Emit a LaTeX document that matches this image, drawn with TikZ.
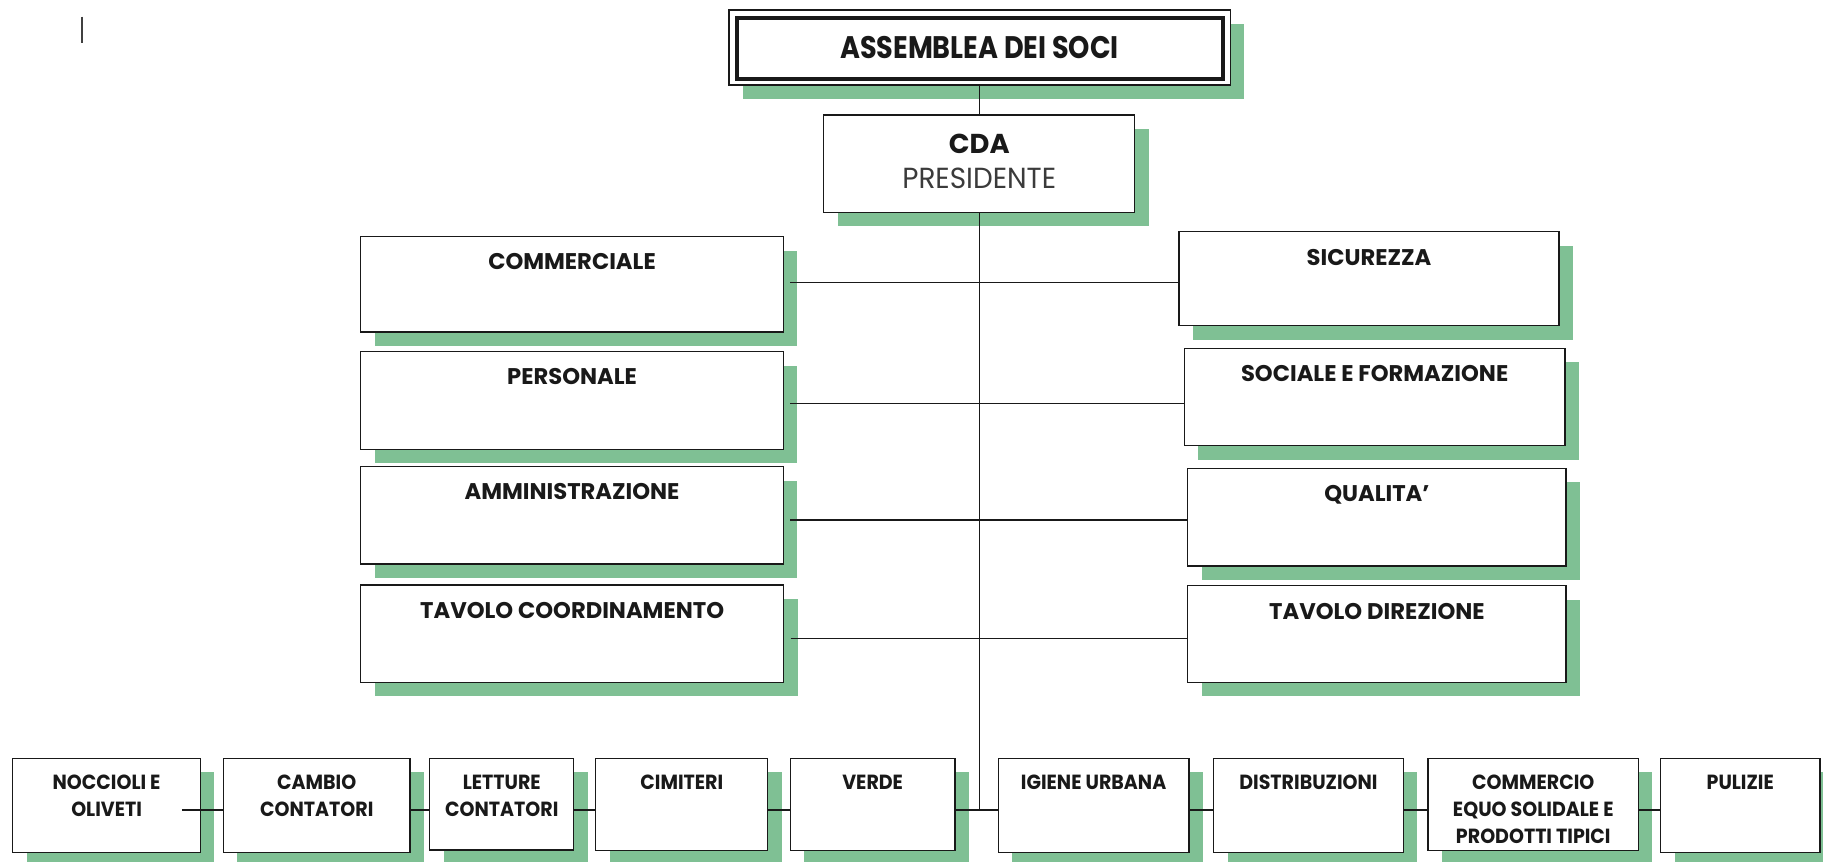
\documentclass[tikz,border=0pt]{standalone}
\usepackage{fontspec}
\setmainfont{Poppins}
\newfontfamily\popA[FakeStretch=0.87]{Poppins}
\newfontfamily\popP[FakeStretch=0.96]{Poppins}
\newfontfamily\popB[FakeStretch=0.93]{Poppins}
\usetikzlibrary{shadows,calc}
\definecolor{shgreen}{RGB}{127,192,148}
\definecolor{ink}{RGB}{25,25,25}
\newcommand\orgbox[5]{%
  \node[box, minimum width={(#4-#2)*1pt}, minimum height={(#5-#3)*1pt}] (#1) at (#2,#3) {};}
\begin{document}
\begin{tikzpicture}[x=1pt,y=-1pt,
  box/.style={draw=ink, line width=1.1pt, fill=white, inner sep=0pt, outer sep=0pt,
    anchor=north west,
    drop shadow={shadow xshift=12pt, shadow yshift=-12pt, fill=shgreen, opacity=1}},
  lbl/.style={inner sep=0pt, anchor=north, align=center, text=ink},
  midlbl/.style={lbl, font=\fontsize{19.5}{24}\selectfont\bfseries},
  botlbl/.style={lbl, font=\popB\fontsize{17.6}{23}\selectfont\bfseries},
  link/.style={draw=ink, line width=1pt}]

\useasboundingbox (0,0) rectangle (1568,741);

% top boxes
\node[box, line width=0.9pt, minimum width=431pt, minimum height=64.5pt,
  font=\popA\fontsize{26.8}{30}\selectfont\bfseries, text=ink] (assemblea) at (627,8.6) {ASSEMBLEA DEI SOCI};
\draw[ink, line width=3.5pt] ([shift={(6.5,7)}]assemblea.north west) rectangle ([shift={(-6,-5)}]assemblea.south east);

\orgbox{cda}{708.5}{98.9}{976}{182.6}
\node[lbl, font=\fontsize{23.5}{30}\selectfont] (cda-t) at ([yshift=-16.5pt]cda.north)
  {{\bfseries CDA}\\{\popP\fontsize{25}{30}\selectfont\color{ink!85!white}PRESIDENTE}};

% left column
\orgbox{comm}{310.2}{203.6}{673.8}{285.6}
\orgbox{pers}{310.2}{302.5}{673.8}{386.5}
\orgbox{amm}{310.2}{401.4}{673.8}{485.1}
\orgbox{tcoord}{310.2}{503.2}{674}{587}
% right column
\orgbox{sic}{1014}{199.3}{1341}{280.1}
\orgbox{soc}{1018.7}{299.6}{1346}{383.3}
\orgbox{qual}{1021.6}{402.8}{1347}{486.8}
\orgbox{tdir}{1021.6}{503.8}{1347}{586.9}

\node[midlbl] (comm-t) at ([yshift=-14.5pt]comm.north) {COMMERCIALE};
\node[midlbl] (pers-t) at ([yshift=-14.5pt]pers.north) {PERSONALE};
\node[midlbl] (amm-t) at ([yshift=-14.5pt]amm.north) {AMMINISTRAZIONE};
\node[midlbl] (tcoord-t) at ([yshift=-14.8pt]tcoord.north) {TAVOLO COORDINAMENTO};
\node[midlbl] (sic-t) at ([yshift=-14.8pt]sic.north) {SICUREZZA};
\node[midlbl] (soc-t) at ([yshift=-14.8pt]soc.north) {SOCIALE E FORMAZIONE};
\node[midlbl] (qual-t) at ([yshift=-14.8pt]qual.north) {QUALITA’};
\node[midlbl] (tdir-t) at ([yshift=-14.8pt]tdir.north) {TAVOLO DIREZIONE};

% bottom row
\orgbox{nocc}{11}{652.3}{172.4}{733.4}
\orgbox{cambio}{192.2}{652.3}{352.7}{733.4}
\orgbox{letture}{369.7}{652.3}{493.5}{731.1}
\orgbox{cimiteri}{512.5}{652.3}{660.4}{731.7}
\orgbox{verde}{679.9}{652.3}{821.3}{731.7}
\orgbox{igiene}{858.7}{652.3}{1022.6}{733.4}
\orgbox{distrib}{1043.8}{652.3}{1207}{733.4}
\orgbox{commercio}{1228.3}{652.3}{1409.3}{731.7}
\orgbox{pulizie}{1428.3}{652.3}{1565.3}{733.4}

\node[botlbl] (nocc-t) at ([yshift=-14.3pt]nocc.north) {NOCCIOLI E\\OLIVETI};
\node[botlbl] (cambio-t) at ([yshift=-14.3pt]cambio.north) {CAMBIO\\CONTATORI};
\node[botlbl] (letture-t) at ([yshift=-14.3pt]letture.north) {LETTURE\\CONTATORI};
\node[botlbl] (cimiteri-t) at ([yshift=-14.3pt]cimiteri.north) {CIMITERI};
\node[botlbl] (verde-t) at ([yshift=-14.3pt]verde.north) {VERDE};
\node[botlbl] (igiene-t) at ([yshift=-14.3pt]igiene.north) {IGIENE URBANA};
\node[botlbl] (distrib-t) at ([yshift=-14.3pt]distrib.north) {DISTRIBUZIONI};
\node[botlbl] (commercio-t) at ([yshift=-14.3pt]commercio.north) {COMMERCIO\\EQUO SOLIDALE E\\PRODOTTI TIPICI};
\node[botlbl] (pulizie-t) at ([yshift=-14.3pt]pulizie.north) {PULIZIE};

% connectors
\coordinate (jn) at (842.4,696.7);
\draw[link] (assemblea.south -| cda.north) -- (cda.north);
\draw[link] (cda.south) -- (cda.south |- jn);

\draw[link] ($(comm.east)+(6,-1.7)$) -- ($(comm.east -| sic.west)+(0,-1.7)$);
\draw[link] ($(pers.east)+(6,2.4)$) -- ($(pers.east -| soc.west)+(0,2.4)$);
\draw[link] ($(amm.east)+(6,4)$) -- ($(amm.east -| qual.west)+(0,4)$);
\draw[link] ($(tcoord.east)+(6,3.8)$) -- ($(tcoord.east -| tdir.west)+(0,3.8)$);

\draw[link] ($(nocc.east)+(-16,3.85)$) -- (cambio.west |- jn);
\draw[link] (cambio.east |- jn) -- (letture.west |- jn);
\draw[link] (letture.east |- jn) -- (cimiteri.west |- jn);
\draw[link] (cimiteri.east |- jn) -- (verde.west |- jn);
\draw[link] (verde.east |- jn) -- (igiene.west |- jn);
\draw[link] (igiene.east |- jn) -- (distrib.west |- jn);
\draw[link] (distrib.east |- jn) -- (commercio.west |- jn);
\draw[link] (commercio.east |- jn) -- (pulizie.west |- jn);

% cursor mark at top left
\draw[line width=1.3pt, black!75] (70.5,14.3) -- (70.5,37);
\end{tikzpicture}
\end{document}
